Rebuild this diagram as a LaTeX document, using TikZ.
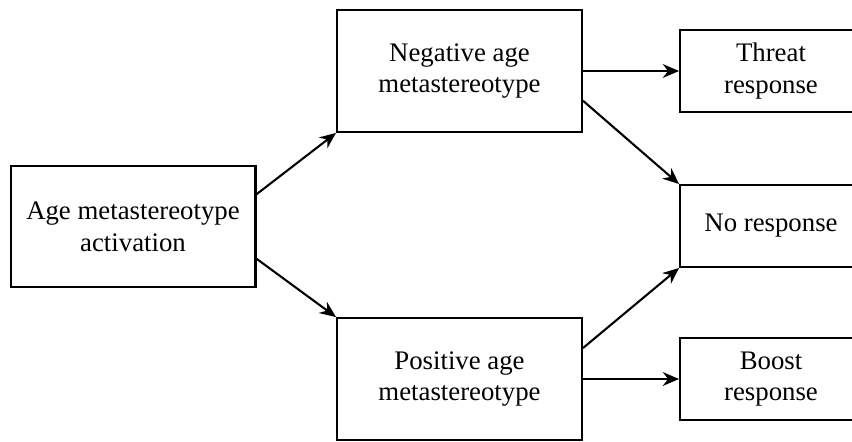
\documentclass[tikz,border=0pt]{standalone}
\usepackage{fontspec}
\setmainfont{Liberation Serif}
\usetikzlibrary{arrows.meta,
                calc,
                positioning}

\begin{document}
\begin{tikzpicture}[
			x=0.016cm, y=-0.016cm,
			box/.style = {draw, line width=0.95pt, align=center, inner sep=0pt,
			              font=\fontsize{12.2}{14.5}\selectfont},
			midbox/.style = {box, minimum width=3.92cm, minimum height=1.95cm},
			respbox/.style = {box, minimum width=2.91cm, minimum height=1.31cm},
			link/.style = {-{Stealth[length=2.6mm, width=2.2mm]}, line width=0.95pt},
			]
			\useasboundingbox (0,0) rectangle (852,441);
			% boxes
			\node[midbox] (act) at (133,226.5) {Age metastereotype\\activation};
			\node[midbox] (neg) at (459.5,71) {Negative age\\metastereotype};
			\node[midbox] (pos) at (459.5,379) {Positive age\\metastereotype};
			% responses
			\node[respbox] (threat) at (771,71) {Threat\\response};
			\node[respbox] (nores) at (771,226) {No response};
			\node[respbox] (boost) at (771,379) {Boost\\response};
			% edges
			\path[]
			($(act.north east)!0.24!(act.south east)$) edge[link] (neg.south west)
			($(act.north east)!0.76!(act.south east)$) edge[link] (pos.north west)
			(neg.east) edge[link] (threat.west)
			($(neg.north east)!0.74!(neg.south east)$) edge[link] (nores.north west)
			($(pos.north east)!0.25!(pos.south east)$) edge[link] (nores.south west)
			(pos.east) edge[link] (boost.west)
			;
\end{tikzpicture}
\end{document}
